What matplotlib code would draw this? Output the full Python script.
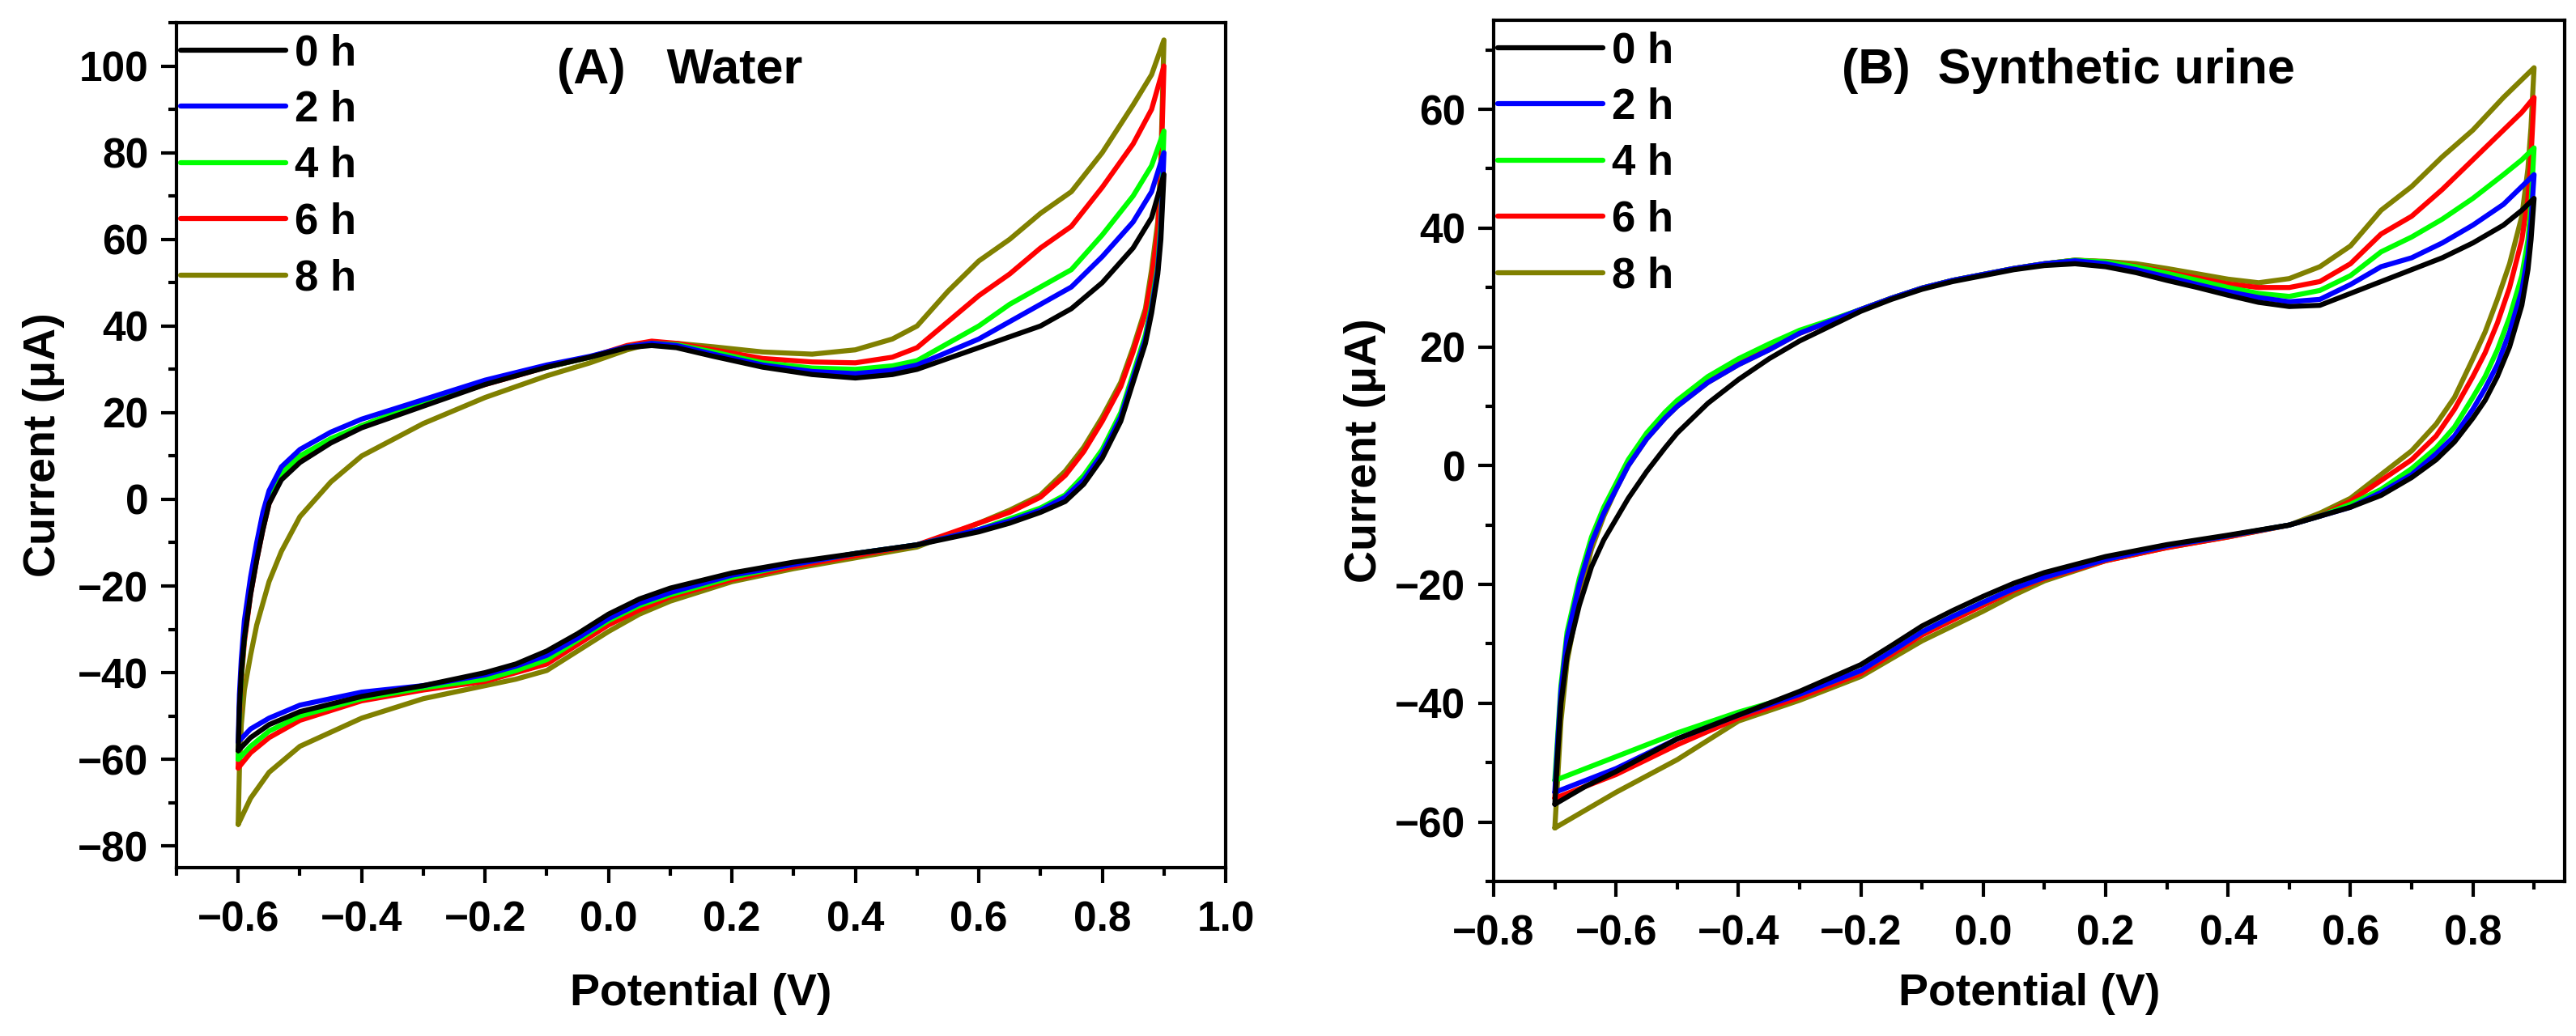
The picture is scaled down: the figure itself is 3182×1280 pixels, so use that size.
import numpy as np
import matplotlib.pyplot as plt
from matplotlib.ticker import MultipleLocator

plt.rcParams['font.family'] = ['Liberation Sans', 'DejaVu Sans']
plt.rcParams['font.weight'] = 'bold'
plt.rcParams['axes.labelweight'] = 'bold'

labels = ['0 h', '2 h', '4 h', '6 h', '8 h']
colors = ['#000000', '#0000ff', '#00ff00', '#ff0000', '#808000']

# ---- (A) water: forward (anodic) sweep -0.6 -> 0.9 V
water_v_fwd = [-0.6, -0.598, -0.595, -0.59, -0.58, -0.57, -0.56, -0.55, -0.53, -0.5,
               -0.45, -0.4, -0.3, -0.2, -0.1, -0.03, 0.03, 0.07, 0.11, 0.17, 0.25, 0.33,
               0.4, 0.46, 0.5, 0.55, 0.6, 0.65, 0.7, 0.75, 0.8, 0.85, 0.88, 0.9]
water_0h_fwd = [-58, -48, -40, -32, -22, -14, -7, -1, 4.5, 8.5, 13, 16.5, 21.5, 26.5, 30.5,
                32.8, 35, 35.5, 35, 33, 30.5, 28.8, 28, 28.8, 30, 32.5, 35, 37.5, 40, 44,
                50, 58, 65, 75]
water_2h_fwd = [-56, -45, -37, -28, -18, -10, -3, 2, 7.5, 11.5, 15.5, 18.5, 23, 27.5, 31,
                33, 35.2, 36, 35.5, 33.5, 31, 29.5, 29, 29.8, 31, 34, 37, 41, 45, 49,
                56, 64, 71, 80]
water_4h_fwd = [-60, -49, -41, -32, -21, -13, -6, 0, 6, 10, 14, 17, 22.5, 27, 30.5,
                32.8, 35.2, 36, 35.7, 34, 31.5, 30.3, 30, 30.8, 32, 36, 40, 45, 49, 53,
                61, 70, 77, 85]
water_6h_fwd = [-62, -50, -42, -33, -22, -14, -7, -1, 5, 9.5, 13.5, 17, 22, 26.5, 30.5,
                32.8, 35.5, 36.5, 36, 34.5, 32.5, 31.7, 31.5, 32.8, 35, 41, 47, 52, 58, 63,
                72, 82, 90, 100]
water_8h_fwd = [-75, -62, -52, -44, -36, -29, -24, -19, -12, -4, 4, 10, 17.5, 23.5, 28.5,
                31.5, 34.5, 36, 36, 35.2, 34, 33.5, 34.5, 37, 40, 48, 55, 60, 66, 71,
                80, 91, 98, 106]

# ---- (A) water: reverse (cathodic) sweep 0.9 -> -0.6 V
water_v_rev = [0.9, 0.895, 0.89, 0.88, 0.87, 0.85, 0.83, 0.8, 0.77, 0.74, 0.7, 0.65, 0.6,
               0.5, 0.4, 0.3, 0.2, 0.1, 0.05, 0.0, -0.05, -0.1, -0.15, -0.2, -0.3, -0.4,
               -0.5, -0.55, -0.58, -0.6]
water_0h_rev = [75, 60, 52, 43, 36, 27, 18, 9.5, 3.5, -0.5, -3, -5.5, -7.5, -10.5, -12.5,
                -14.5, -17, -20.5, -23, -26.5, -31, -35, -38, -40, -43, -45.5, -49, -52,
                -55, -58]
water_2h_rev = [80, 62, 53, 44, 37, 28, 19, 10.5, 4.5, 0.5, -2.5, -5, -7, -10.5, -12.5,
                -15, -17.5, -21.5, -24, -27.5, -32, -36, -38.5, -40.5, -43, -44.5, -47.5,
                -50.5, -53, -56]
water_4h_rev = [85, 64, 54, 45, 38, 29, 20, 11.5, 5.5, 1, -2, -4.5, -7, -10.5, -12.5,
                -15, -18, -22, -24.5, -28, -32.5, -37, -39.5, -41.5, -43.5, -46, -50,
                -53.5, -57, -60]
water_6h_rev = [100, 75, 62, 51, 43, 34, 26, 18, 11, 5.5, 0.5, -3, -5.5, -10.5, -13,
                -15.5, -18.5, -22.5, -25.5, -29, -33.5, -38, -40, -42, -44, -46.5, -51,
                -55, -58.5, -62]
water_8h_rev = [106, 78, 64, 53, 44, 35, 27, 19, 12, 6.5, 1, -2.5, -5.5, -11, -13.5,
                -16, -19, -23.5, -26.5, -30.5, -35, -39.5, -41.5, -43, -46, -50.5, -57,
                -63, -69, -75]

# ---- (B) synthetic urine: forward sweep -0.7 -> 0.9 V
urine_v_fwd = [-0.7, -0.695, -0.69, -0.68, -0.66, -0.64, -0.62, -0.6, -0.58, -0.55, -0.52,
               -0.5, -0.45, -0.4, -0.35, -0.3, -0.25, -0.2, -0.15, -0.1, -0.05, 0.0, 0.05,
               0.1, 0.15, 0.2, 0.25, 0.3, 0.35, 0.4, 0.45, 0.5, 0.55, 0.6, 0.65, 0.7,
               0.75, 0.8, 0.85, 0.88, 0.9]
urine_0h_fwd = [-57, -48, -40, -32, -23.5, -17, -12.5, -9, -5.5, -1, 3, 5.5, 10.5, 14.5, 18,
                21, 23.5, 26, 28, 29.7, 31, 32, 33, 33.7, 34, 33.5, 32.5, 31.2, 30, 28.7,
                27.5, 26.8, 27, 29, 31, 33, 35, 37.5, 40.5, 43, 45]
urine_2h_fwd = [-55, -46, -38, -29, -20, -13, -8, -4, 0, 4.5, 8, 10, 14, 17, 19.5,
                22.3, 24.3, 26.3, 28.2, 29.9, 31.2, 32.2, 33.2, 34, 34.5, 34, 33, 31.8, 30.5,
                29.3, 28.3, 27.6, 28, 30.5, 33.5, 35, 37.5, 40.5, 44, 47, 49]
urine_4h_fwd = [-53, -45, -37, -28, -19, -12, -7, -3, 1, 5.5, 9, 11, 15, 18, 20.5,
                22.8, 24.5, 26.3, 28.2, 29.9, 31.2, 32.2, 33.2, 34, 34.6, 34.3, 33.5, 32.4,
                31.2, 30, 29, 28.5, 29.5, 32, 36, 38.5, 41.5, 45, 49, 51.5, 53.5]
urine_6h_fwd = [-56, -47, -39, -30, -20, -13, -7.5, -3.5, 0.5, 5, 8.5, 10.5, 14.5, 17.5, 20,
                22.3, 24.3, 26.3, 28.2, 29.9, 31.2, 32.2, 33.2, 34, 34.6, 34.3, 33.6, 32.6,
                31.6, 30.6, 30, 30, 31, 34, 39, 42, 46.5, 51.5, 56.5, 59.5, 62]
urine_8h_fwd = [-61, -52, -43, -33, -22, -14, -8.5, -4, 0, 4.5, 8, 10, 14, 17, 19.5,
                22.3, 24.3, 26.3, 28.2, 29.9, 31.2, 32.2, 33.2, 34, 34.6, 34.4, 34, 33.2,
                32.3, 31.4, 30.8, 31.5, 33.5, 37, 43, 47, 52, 56.5, 62, 65, 67]

# ---- (B) synthetic urine: reverse sweep 0.9 -> -0.7 V
urine_v_rev = [0.9, 0.895, 0.89, 0.88, 0.86, 0.84, 0.82, 0.8, 0.77, 0.74, 0.7, 0.65, 0.6,
               0.55, 0.5, 0.4, 0.3, 0.2, 0.1, 0.05, 0.0, -0.05, -0.1, -0.15, -0.2, -0.3,
               -0.4, -0.5, -0.6, -0.65, -0.7]
urine_0h_rev = [45, 38, 33, 27, 20, 15, 11, 8, 4, 1, -2, -5, -7, -8.5, -10, -11.7, -13.3,
                -15.3, -18, -19.8, -22, -24.4, -27, -30.3, -33.5, -38, -42, -46, -51.5,
                -54, -57]
urine_2h_rev = [49, 41, 35.5, 29.5, 22.5, 17, 13, 9.5, 5, 2, -1.5, -4.5, -7, -8.5, -10,
                -11.8, -13.5, -15.8, -18.8, -20.7, -23, -25.4, -28, -31.3, -34.5, -38.5,
                -42, -46, -51, -53, -55]
urine_4h_rev = [53.5, 44, 38, 32, 25, 19.5, 15, 11.5, 6.5, 3, -0.5, -4, -6.5, -8.5, -10,
                -11.8, -13.5, -15.8, -18.8, -20.7, -23, -25.4, -28, -31.3, -34.5, -38.5,
                -41.5, -45, -49, -51, -53]
urine_6h_rev = [62, 52, 45, 38, 30, 24, 19, 15, 9.5, 5, 1, -2.5, -6, -8.5, -10, -12,
                -13.8, -16, -19, -21, -23.5, -26, -28.5, -31.8, -35, -39, -42.5, -47, -52,
                -54, -56]
urine_8h_rev = [67, 57, 50, 42, 34, 28, 22.5, 18, 11.5, 7, 2.5, -1.5, -5.5, -8, -10, -12,
                -13.8, -16, -19.4, -21.8, -24.5, -27, -29.5, -32.5, -35.5, -39.5, -43,
                -49.5, -55, -58, -61]

water_fwd = [water_0h_fwd, water_2h_fwd, water_4h_fwd, water_6h_fwd, water_8h_fwd]
water_rev = [water_0h_rev, water_2h_rev, water_4h_rev, water_6h_rev, water_8h_rev]
urine_fwd = [urine_0h_fwd, urine_2h_fwd, urine_4h_fwd, urine_6h_fwd, urine_8h_fwd]
urine_rev = [urine_0h_rev, urine_2h_rev, urine_4h_rev, urine_6h_rev, urine_8h_rev]

W, H = 3182, 1280
fig = plt.figure(figsize=(W / 100, H / 100), dpi=100)

# axes boxes in pixels: left, right, top, bottom
box_a = (218, 1514, 28, 1072)
box_b = (1845, 3168, 25, 1089)


def make_axes(box):
    l, r, t, b = box
    return fig.add_axes([l / W, (H - b) / H, (r - l) / W, (b - t) / H])


ax1 = make_axes(box_a)
ax2 = make_axes(box_b)

panels = [
    (ax1, water_v_fwd, water_v_rev, water_fwd, water_rev, (-0.7, 1.0), (-85, 110),
     '(A)   Water', box_a, 54, 688),
    (ax2, urine_v_fwd, urine_v_rev, urine_fwd, urine_rev, (-0.8, 0.95), (-70, 75),
     '(B)  Synthetic urine', box_b, 1686, 2275),
]

for ax, vf, vr, fwd, rev, xl, yl, title, box, ylab_x, title_x in panels:
    l, r, t, b = box
    # draw 8 h first so 0 h ends up on top
    for i in reversed(range(5)):
        v = np.concatenate([vf, vr])
        cur = np.concatenate([fwd[i], rev[i]])
        ax.plot(v, cur, color=colors[i], lw=4.5, label=labels[i],
                solid_joinstyle='round', solid_capstyle='round')
    ax.set_xlim(*xl)
    ax.set_ylim(*yl)
    ax.xaxis.set_major_locator(MultipleLocator(0.2))
    ax.xaxis.set_minor_locator(MultipleLocator(0.1))
    ax.yaxis.set_major_locator(MultipleLocator(20))
    ax.yaxis.set_minor_locator(MultipleLocator(10))
    ax.tick_params(which='both', direction='out', top=False, right=False, width=3,
                   labelsize=37)
    ax.tick_params(which='major', length=14)
    ax.tick_params(which='minor', length=7)
    ax.tick_params(axis='x', pad=15)
    ax.tick_params(axis='y', pad=11)
    for s in ax.spines.values():
        s.set_linewidth(3)

    ax.set_xlabel('Potential (V)', fontsize=40)
    ax.set_ylabel('Current (\u03bcA)', fontsize=40)
    ax.xaxis.label.set_va('center')
    ax.yaxis.label.set_va('center')
    ax.xaxis.set_label_coords(0.5, -(1228 - b) / (b - t))
    ax.yaxis.set_label_coords((ylab_x - l) / (r - l), 0.5)

    ax.text((title_x - l) / (r - l), (b - 103) / (b - t), title, transform=ax.transAxes,
            fontsize=44, ha='left', va='baseline')

    handles, labs = ax.get_legend_handles_labels()
    ax.legend(handles[::-1], labs[::-1], loc='upper left',
              bbox_to_anchor=(0, 1 - 8 / (b - t)),
              frameon=False, fontsize=38, handlelength=2.45, handletextpad=0.22,
              labelspacing=0.37, borderaxespad=0, borderpad=0.1)

fig.savefig('out.png', dpi=100)
